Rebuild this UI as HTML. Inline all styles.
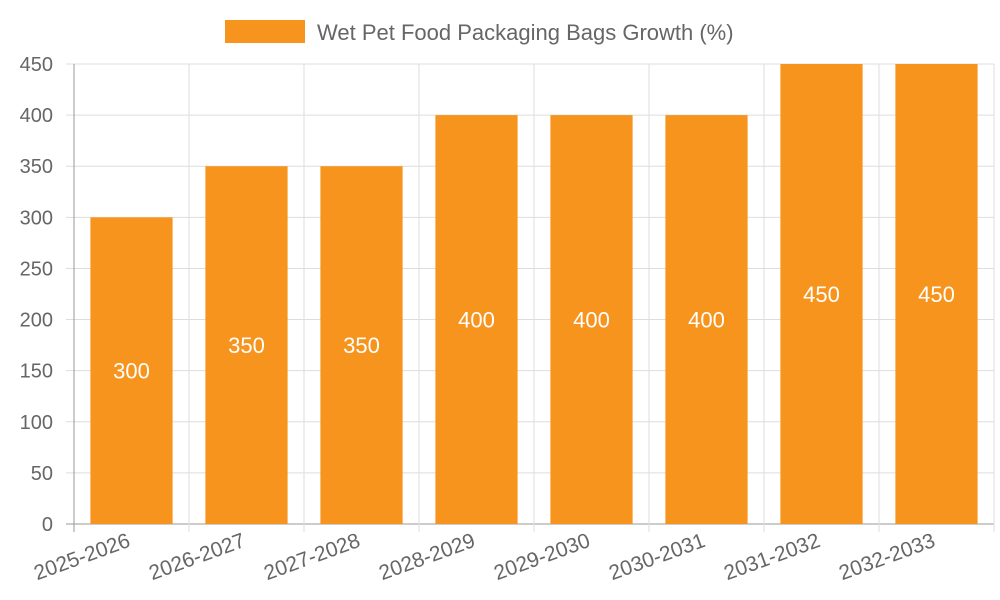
<!DOCTYPE html>
<html><head><meta charset="utf-8"><style>
body{margin:0;background:#fff;}
svg{display:block;font-family:"Liberation Sans",sans-serif;}
</style></head><body>
<svg id="chart" width="1000" height="600" xmlns="http://www.w3.org/2000/svg">
<g>
<rect x="225" y="20" width="80" height="23" fill="#f7941e"/>
<text x="317" y="40" font-size="22" fill="#666">Wet Pet Food Packaging Bags Growth (%)</text>
</g>
<g id="grid"></g><g id="bars"></g><g id="labels"></g>
</svg>
<script>
const categories=["2025-2026","2026-2027","2027-2028","2028-2029","2029-2030","2030-2031","2031-2032","2032-2033"];
const values=[300,350,350,400,400,400,450,450];
const yTicks=[0,50,100,150,200,250,300,350,400,450];
const NS="http://www.w3.org/2000/svg";
const L=74,R=994,T=64,B=524,yMax=450;
const cw=(R-L)/categories.length;
const y=v=>B-(v/yMax)*(B-T);
const x=i=>L+i*cw;
function mk(tag,attrs,parent,text){const e=document.createElementNS(NS,tag);for(const k in attrs)e.setAttribute(k,attrs[k]);if(text!==undefined)e.textContent=text;parent.appendChild(e);return e;}
const grid=document.getElementById('grid'),bars=document.getElementById('bars'),labels=document.getElementById('labels');
yTicks.forEach(t=>{
 const ln=mk('line',{x1:L-8,x2:R,y1:y(t),y2:y(t),stroke:t===0?'#999':'#ddd','stroke-width':1},grid);
 
 
 const tx=mk('text',{x:L-21,y:y(t)+7,'text-anchor':'end','font-size':20,fill:'#666'},grid,String(t));
 
 
});
for(let i=0;i<=categories.length;i++){
 const ln=mk('line',{x1:x(i),x2:x(i),y1:T,y2:B+8,stroke:i===0?'#999':'#ddd','stroke-width':1},grid);
 
 
}
categories.forEach((c,i)=>{
 const bw=cw*0.715,bx=x(i)+(cw-bw)/2;
 const r=mk('rect',{x:bx,y:y(values[i]),width:bw,height:B-y(values[i]),fill:'#f7941e'},bars);
 
 
 const v=mk('text',{x:bx+bw/2,y:(y(values[i])+B)/2+8,'text-anchor':'middle','font-size':22,fill:'#fff'},labels,String(values[i]));
 
 
 const cx=x(i)+cw/2;
 const t=mk('text',{x:cx,y:B+22,'text-anchor':'end','font-size':21,fill:'#666',transform:`rotate(-20 ${cx} ${B+22})`},labels,c);
 
 
});
</script>
</body></html>
